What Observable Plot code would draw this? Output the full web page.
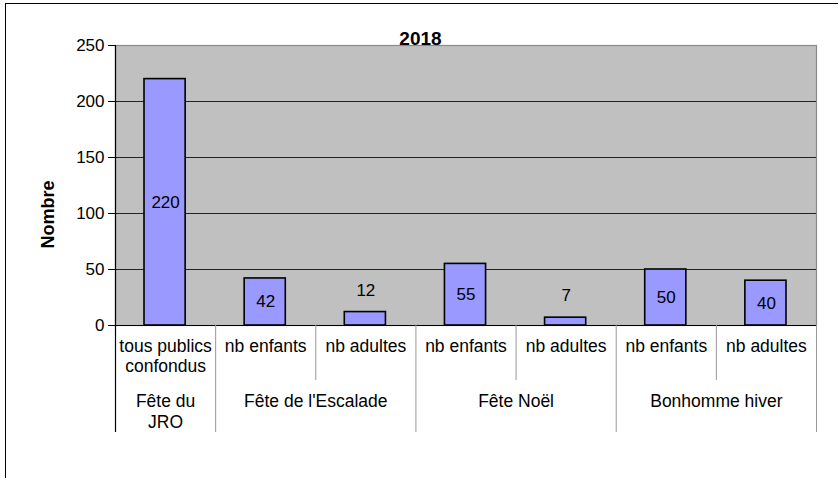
<!DOCTYPE html>
<html>
<head>
<meta charset="utf-8">
<script src="https://cdn.jsdelivr.net/npm/d3@7"></script>
<script src="https://cdn.jsdelivr.net/npm/@observablehq/plot@0.6"></script>
<style>
  body { margin: 0; background: #fff; font-family: "Liberation Sans", Arial, sans-serif; }
  #wrap { position: relative; width: 838px; height: 478px; }
  #border { position: absolute; left: 5px; top: 3px; right: 0; bottom: -2px; border-left: 1.5px solid #000; border-top: 1.5px solid #000; pointer-events: none; }
</style>
</head>
<body>
<div id="wrap"><div id="border"></div></div>
<script>
const title = "2018";
const yLabel = "Nombre";
const values = [220, 42, 12, 55, 7, 50, 40];
const subLabels = ["tous publics\nconfondus", "nb enfants", "nb adultes", "nb enfants", "nb adultes", "nb enfants", "nb adultes"];
const groupNames = ["Fête du\nJRO", "Fête de l'Escalade", "Fête Noël", "Bonhomme hiver"];
const groupSizes = [1, 2, 2, 2];
const yTicks = [0, 50, 100, 150, 200, 250];

const data = values.map((v, i) => ({i, value: v, sub: subLabels[i]}));
const groups = [];
let start = 0;
groupNames.forEach((name, k) => { groups.push({name, start, end: start + groupSizes[k]}); start += groupSizes[k]; });
const longBounds = [0, ...groups.map(g => g.end)];
const shortBounds = d3.range(1, values.length).filter(b => !longBounds.includes(b));

const font = "Liberation Sans, Arial, sans-serif";
const frameH = 478 - 45 - 153;

const plot = Plot.plot({
  width: 838, height: 478,
  marginTop: 45, marginBottom: 153, marginLeft: 115, marginRight: 22,
  style: {fontFamily: font, color: "#000", background: "transparent"},
  x: {type: "linear", domain: [0, values.length], axis: null},
  y: {domain: [0, 250], axis: null},
  marks: [
    Plot.frame({fill: "#c0c0c0", stroke: "#8a8a8a", strokeWidth: 1.2}),
    Plot.ruleY(yTicks.filter(t => t > 0 && t < 250), {stroke: "#222", strokeWidth: 1.2}),
    Plot.rectY(data, {x1: "i", x2: d => d.i + 1, y: "value", insetLeft: 29, insetRight: 30, fill: "#9999ff", stroke: "#000", strokeWidth: 1.6}),
    Plot.text(data.filter(d => d.value >= 20), {x: d => d.i + 0.5, y: d => d.value / 2, text: d => String(d.value), fontSize: 17, fill: "#000"}),
    Plot.text(data.filter(d => d.value < 20), {x: d => d.i + 0.5, y: "value", text: d => String(d.value), fontSize: 17, fill: "#000", dy: -22}),
    Plot.ruleY([0], {stroke: "#000", strokeWidth: 1.2}),
    Plot.ruleX([0], {stroke: "#000", strokeWidth: 1.2}),
    Plot.axisY({ticks: yTicks, tickSize: 7, tickPadding: 4, fontSize: 17, label: null, stroke: "#000"}),
    // category table below the axis
    Plot.ruleX(shortBounds, {stroke: "#999", strokeWidth: 1, dy: frameH, insetBottom: frameH - 55}),
    Plot.ruleX(longBounds.filter(b => b > 0), {stroke: "#999", strokeWidth: 1, dy: frameH, insetBottom: frameH - 107}),
    Plot.ruleX([0], {stroke: "#000", strokeWidth: 1.2, dy: frameH, insetBottom: frameH - 107}),
    Plot.text(data, {x: d => d.i + 0.5, text: "sub", frameAnchor: "bottom", lineAnchor: "top", dy: 12, fontSize: 17.5, lineHeight: 1.15, fill: "#000"}),
    Plot.text(groups, {x: g => (g.start + g.end) / 2, text: "name", frameAnchor: "bottom", lineAnchor: "top", dy: 67, fontSize: 17.5, lineHeight: 1.2, fill: "#000"}),
    // titles
    Plot.text([title], {frameAnchor: "top-left", textAnchor: "middle", lineAnchor: "bottom", dx: 305, dy: -1, fontSize: 19, fontWeight: "bold", fill: "#000"}),
    Plot.text([yLabel], {frameAnchor: "left", textAnchor: "middle", rotate: -90, dx: -67, dy: 29, fontSize: 18, fontWeight: "bold", fill: "#000"})
  ]
});
document.getElementById("wrap").appendChild(plot);
plot.style.position = "absolute";
plot.style.left = "0";
plot.style.top = "0";
</script>
</body>
</html>
